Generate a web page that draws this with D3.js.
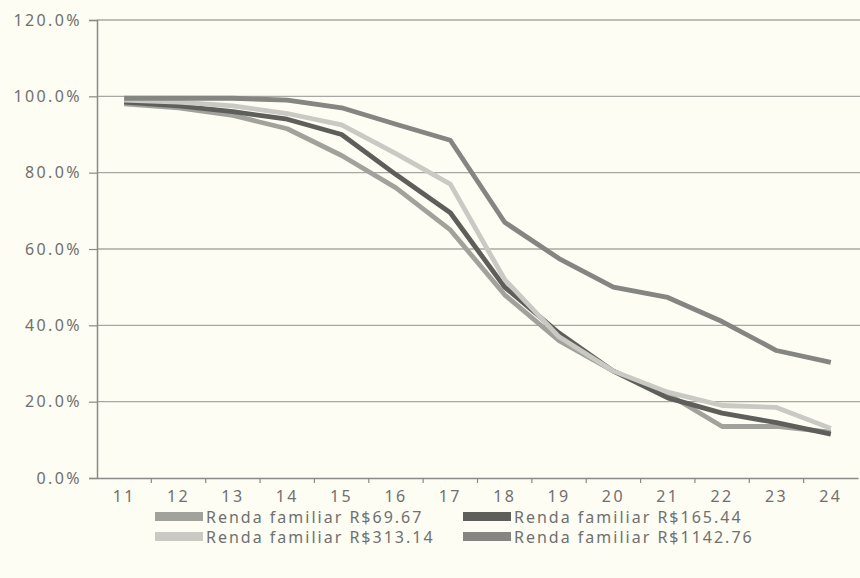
<!DOCTYPE html>
<html>
<head>
<meta charset="utf-8">
<script src="https://cdn.jsdelivr.net/npm/d3@7"></script>
<style>
  body { margin: 0; background: #fdfdf3; }
  svg { display: block; }
  text { font-family: "Noto Sans", "DejaVu Sans", sans-serif; fill: #707070; }
</style>
</head>
<body>
<svg id="chart" width="860" height="578"></svg>
<script>
// ages on the x axis
var ages = [11, 12, 13, 14, 15, 16, 17, 18, 19, 20, 21, 22, 23, 24];

// share (%) per family income group
var renda69 = [98, 97, 95, 91.5, 84.5, 76, 65, 48, 36, 28, 22, 13.5, 13.5, 12];
var renda165 = [98.5, 97.5, 96, 94, 90, 79.5, 69.5, 50, 38, 28, 21, 17, 14.5, 11.5];
var renda313 = [99, 98.5, 97.5, 95.5, 92.5, 85, 77, 52, 37, 28, 22.5, 19, 18.5, 13];
var renda1142 = [99.5, 99.5, 99.5, 99, 97, 92.7, 88.5, 67, 57.5, 50, 47.3, 41, 33.4, 30.3];

var seriesNames = ["Renda familiar R$69.67", "Renda familiar R$165.44",
                   "Renda familiar R$313.14", "Renda familiar R$1142.76"];
var yTicks = [0, 20, 40, 60, 80, 100, 120];

var series = [
  { name: seriesNames[0], values: renda69, color: "#a2a29c" },
  { name: seriesNames[1], values: renda165, color: "#5e5e5b" },
  { name: seriesNames[2], values: renda313, color: "#cacac4" },
  { name: seriesNames[3], values: renda1142, color: "#858581" }
];

var svg = d3.select("#chart"),
  width = +svg.attr("width"),
  height = +svg.attr("height");

var margin = { left: 97, right: 0, top: 20, bottom: 100 };

// band scale so ticks sit between categories
var x = d3.scaleBand()
  .domain(ages)
  .range([margin.left, width - 2]);

var y = d3.scaleLinear()
  .domain([0, 120])
  .range([478, margin.top]);

// gridlines
svg.append("g")
  .selectAll("line")
  .data(yTicks.slice(1))
  .enter().append("line")
  .attr("x1", margin.left)
  .attr("x2", width)
  .attr("y1", function(d) { return y(d); })
  .attr("y2", function(d) { return y(d); })
  .attr("stroke", "#a8a8a2")
  .attr("stroke-width", 1.3);

// y axis
var yAxis = svg.append("g")
  .attr("transform", "translate(" + margin.left + ",0)")
  .call(d3.axisLeft(y)
    .tickValues(yTicks)
    .tickSize(8)
    .tickFormat(function(d) { return d.toFixed(1) + "%"; }));
yAxis.select(".domain").attr("stroke", "#8a8a86").attr("stroke-width", 1.5);
yAxis.selectAll(".tick line").attr("stroke", "#8a8a86").attr("stroke-width", 1.2);
yAxis.selectAll(".tick text")
  .attr("x", -15)
  .style("font-size", "16px")
  .style("letter-spacing", "2.4px")
  .attr("fill", "#7a7a76");

// x axis
var xAxis = svg.append("g")
  .attr("transform", "translate(0," + y(0) + ")")
  .call(d3.axisBottom(x).tickSize(0).tickPadding(13));
xAxis.select(".domain").attr("stroke", "#8a8a86").attr("stroke-width", 1.5);
xAxis.selectAll(".tick text")
  .style("font-size", "16px")
  .style("letter-spacing", "2.4px")
  .attr("fill", "#7a7a76");

// tick marks at band edges
svg.append("g")
  .selectAll("line")
  .data(ages.slice(1))
  .enter().append("line")
  .attr("x1", function(d) { return x(d); })
  .attr("x2", function(d) { return x(d); })
  .attr("y1", y(0))
  .attr("y2", y(0) + 5)
  .attr("stroke", "#8a8a86")
  .attr("stroke-width", 1.2);

// lines
var line = d3.line()
  .x(function(d, i) { return x(ages[i]) + x.bandwidth() / 2; })
  .y(function(d) { return y(d); });

svg.append("g")
  .selectAll("path")
  .data(series)
  .enter().append("path")
  .attr("d", function(d) { return line(d.values); })
  .attr("fill", "none")
  .attr("stroke", function(d) { return d.color; })
  .attr("stroke-width", 4.8)
  .attr("stroke-linejoin", "round");

// legend, two columns
var legend = svg.append("g")
  .selectAll("g")
  .data(series)
  .enter().append("g")
  .attr("transform", function(d, i) {
    var col = i % 2, row = Math.floor(i / 2);
    return "translate(" + (col === 0 ? 155 : 463) + "," + (517 + row * 20) + ")";
  });

legend.append("rect")
  .attr("x", 0)
  .attr("y", -5)
  .attr("width", 48)
  .attr("height", 9)
  .attr("fill", function(d) { return d.color; });

legend.append("text")
  .attr("x", 51)
  .attr("dy", "0.35em")
  .style("font-size", "16px")
  .style("letter-spacing", "2px")
  .attr("fill", "#6e6e6a")
  .text(function(d) { return d.name; });
</script>
</body>
</html>
